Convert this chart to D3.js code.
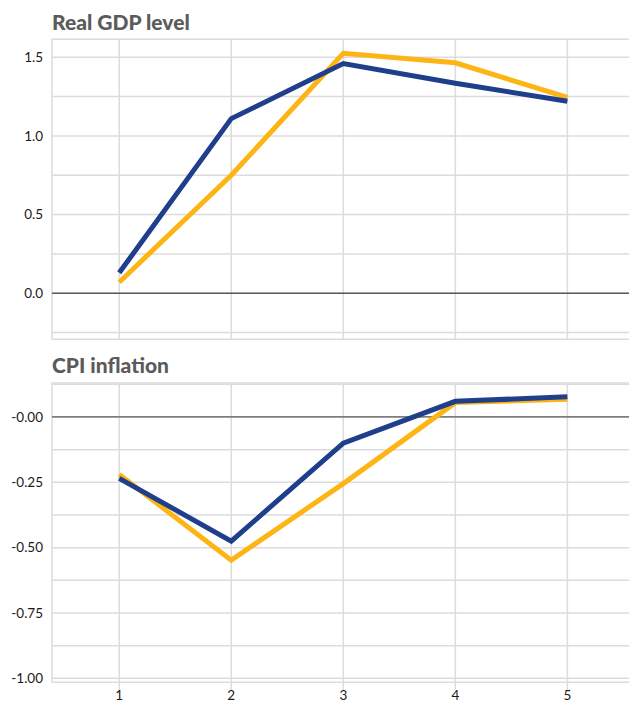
<!DOCTYPE html>
<html>
<head>
<meta charset="utf-8">
<script src="https://cdn.jsdelivr.net/npm/d3@7"></script>
<style>
  body { margin: 0; background: #fff; }
  svg { display: block; font-family: Lato, 'Noto Sans', sans-serif; }
  .title { font-weight: 900; font-size: 21px; fill: #5b5b5b; }
  .tick-label { font-size: 13.5px; fill: #1a1a1a; }
</style>
</head>
<body>
<svg width="629" height="704"></svg>
<script>
const PERIODS = [1, 2, 3, 4, 5]

// Real GDP level
const GDP_BLUE = [0.13, 1.11, 1.46, 1.335, 1.22]
const GDP_YELLOW = [0.07, 0.75, 1.525, 1.465, 1.245]
const GDP_GRID = [-0.25, 0, 0.25, 0.5, 0.75, 1.0, 1.25, 1.5]
const GDP_LABELS = [0, 0.5, 1.0, 1.5]

// CPI inflation
const CPI_BLUE = [-0.235, -0.475, -0.10, 0.06, 0.077]
const CPI_YELLOW = [-0.22, -0.548, -0.255, 0.055, 0.068]
const CPI_GRID = [-1, -0.875, -0.75, -0.625, -0.5, -0.375, -0.25, -0.125, 0, 0.125]
const CPI_LABELS = [-1, -0.75, -0.5, -0.25, 0]

const BLUE = '#1f3e8c'
const YELLOW = '#fdb515'
const GRID = '#dcdcdc'

const svg = d3.select('svg')
const left = 52
const right = 629

const x = d3.scaleLinear().domain([0.4, 5.55]).range([left, right])

function panel ({ title, titleY, top, bottom, domain, grid, labels, fmt, series, xTicks }) {
  const y = d3.scaleLinear().domain(domain).range([bottom, top])
  const g = svg.append('g')

  g.append('text').attr('class', 'title').attr('x', left).attr('y', titleY).text(title)

  g.selectAll('.hgrid').data(grid).enter().append('line')
    .attr('x1', left).attr('x2', right)
    .attr('y1', d => y(d)).attr('y2', d => y(d))
    .attr('stroke', GRID).attr('stroke-width', 1.5)

  // frame: top, bottom, left
  g.append('path')
    .attr('d', `M${right},${top}H${left}V${bottom}H${right}`)
    .attr('fill', 'none').attr('stroke', GRID).attr('stroke-width', 1.5)

  g.selectAll('.vgrid').data(PERIODS).enter().append('line')
    .attr('x1', d => x(d)).attr('x2', d => x(d))
    .attr('y1', top).attr('y2', bottom + (xTicks ? 8 : 0))
    .attr('stroke', GRID).attr('stroke-width', 1.5)

  g.append('line')
    .attr('x1', left).attr('x2', right)
    .attr('y1', y(0)).attr('y2', y(0))
    .attr('stroke', '#5a5a5a').attr('stroke-width', 1.3)

  g.selectAll('.ylab').data(labels).enter().append('text')
    .attr('class', 'tick-label')
    .attr('x', 43).attr('y', d => y(d)).attr('dy', '0.35em')
    .attr('text-anchor', 'end')
    .text(fmt)

  const line = d3.line().x((d, i) => x(PERIODS[i])).y(d => y(d))
  series.forEach(s => {
    g.append('path')
      .attr('d', line(s.values))
      .attr('fill', 'none')
      .attr('stroke', s.color)
      .attr('stroke-width', 5)
  })

  if (xTicks) {
    g.selectAll('.xlab').data(PERIODS).enter().append('text')
      .attr('class', 'tick-label')
      .attr('x', d => x(d)).attr('y', 700)
      .attr('text-anchor', 'middle')
      .text(d => d)
  }
}

panel({
  title: 'Real GDP level',
  titleY: 30,
  top: 39.3,
  bottom: 339.3,
  domain: [-0.2925, 1.614],
  grid: GDP_GRID,
  labels: GDP_LABELS,
  fmt: d => d.toFixed(1),
  series: [{ values: GDP_YELLOW, color: YELLOW }, { values: GDP_BLUE, color: BLUE }],
  xTicks: false
})

panel({
  title: 'CPI inflation',
  titleY: 373,
  top: 383,
  bottom: 682.3,
  domain: [-1.0153, 0.13],
  grid: CPI_GRID,
  labels: CPI_LABELS,
  fmt: d => '-' + Math.abs(d).toFixed(2),
  series: [{ values: CPI_YELLOW, color: YELLOW }, { values: CPI_BLUE, color: BLUE }],
  xTicks: true
})
</script>
</body>
</html>
